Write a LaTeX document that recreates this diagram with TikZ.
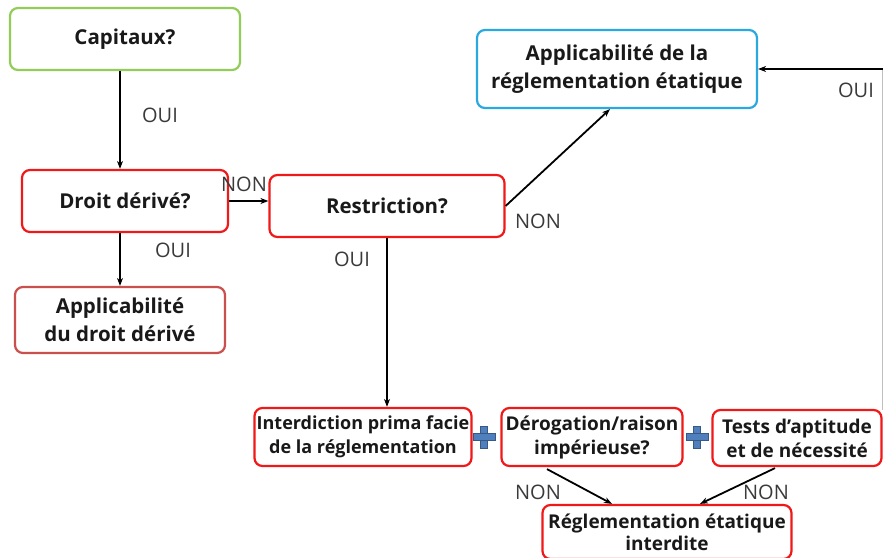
\documentclass[tikz,border=0pt]{standalone}
\usepackage{fontspec}
\setmainfont{Open Sans}
\usetikzlibrary{arrows.meta,calc}
\definecolor{boxred}{HTML}{F01818}
\definecolor{boxgreen}{HTML}{92CD5A}
\definecolor{boxblue}{HTML}{2AA8E0}
\definecolor{boxdull}{HTML}{C8504D}
\definecolor{plusblue}{HTML}{4F7FBD}
\definecolor{lbl}{HTML}{3A3A3A}
\tikzset{
  box/.style={draw=boxred, line width=2.2pt, rounded corners=8pt, fill=white,
    font=\fontsize{20.5}{28}\selectfont\bfseries, align=center, inner sep=0pt, text=black!90},
  small/.style={font=\fontsize{19}{24}\selectfont\bfseries},
  conn/.style={line width=1.8pt, -{Stealth[length=8pt,width=6pt]}},
  lab/.style={font=\fontsize{20}{22}\selectfont, text=lbl, inner sep=0pt},
  plus/.style={fill=plusblue, draw=plusblue!70!black, line width=0.4pt}
}
\begin{document}
\begin{tikzpicture}[x=1pt,y=-1pt]
\useasboundingbox (0,0) rectangle (883,557);
\clip (0,0) rectangle (883,557);
% nodes
\node[box, draw=boxgreen, minimum width=230pt, minimum height=62pt] (cap) at (125,39) {Capitaux?};
\node[box, minimum width=206pt, minimum height=62pt] (dd) at (125,201) {Droit dérivé?};
\node[box, draw=boxdull, minimum width=210pt, minimum height=66pt] (add) at (120,320) {Applicabilité\\du droit dérivé};
\node[box, minimum width=235pt, minimum height=62pt] (res) at (387,206) {Restriction?};
\node[box, draw=boxblue, minimum width=280pt, minimum height=78pt] (are) at (617,69) {Applicabilité de la\\réglementation étatique};
\node[box, font=\fontsize{18}{24}\selectfont\bfseries, minimum width=217pt, minimum height=58pt] (int) at (363,437) {Interdiction prima facie\\de la réglementation};
\node[box, small, minimum width=181pt, minimum height=58pt] (der) at (592,437) {Dérogation/raison\\impérieuse?};
\node[box, small, minimum width=169pt, minimum height=56pt] (tst) at (797,438) {Tests d’aptitude\\et de nécessité};
\node[box, font=\fontsize{19}{22}\selectfont\bfseries, minimum width=249pt, minimum height=54pt] (ri) at (667,532) {Réglementation étatique\\interdite};
\coordinate (rt) at (884,69);
\coordinate (rb) at (882,410);
% plus signs
\foreach \px in {484,697}{
  \fill[plus] (\px-3.5,426) rectangle (\px+3.5,448);
  \fill[plus] (\px-11,433.5) rectangle (\px+11,440.5);
}
% connectors
\draw[black!25, line width=0.8pt] (882,69) -- (rb);
\draw[conn] (cap.south -| 120,0) -- (dd.north -| 120,0);
\draw[conn] (dd.east) -- (dd.east -| res.west);
\draw[conn] (dd.south -| 120,0) -- (add.north -| 120,0);
\draw[conn] (res.east) -- ($(are.south)+(-7,0)$);
\draw[conn] (res.south) -- (int.north -| res.south);
\draw[conn] (rt) -- (are.east);
\draw[conn] ($(der.south)+(-45,2)$) -- ($(ri.north)+(-55,0)$);
\draw[conn] ($(tst.south)+(-22,1)$) -- ($(ri.north)+(33,0)$);
% labels
\node[lab] (l1) at (160,115) {OUI};
\node[lab] (l2) at (244,184) {NON};
\node[lab] (l3) at (173,250) {OUI};
\node[lab] (l4) at (538,221) {NON};
\node[lab] (l5) at (352,259) {OUI};
\node[lab] (l6) at (856,90) {OUI};
\node[lab] (l7) at (538,492) {NON};
\node[lab] (l8) at (766,492) {NON};
\end{tikzpicture}
\end{document}
